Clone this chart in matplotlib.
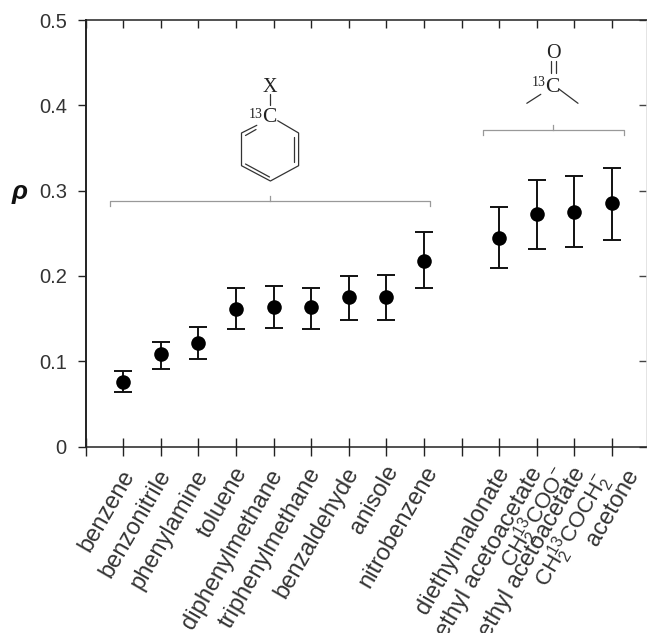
import matplotlib
matplotlib.use('Agg')
import matplotlib.pyplot as plt

# measured rho with lower and upper error limits
positions = [1, 2, 3, 4, 5, 6, 7, 8, 9, 11, 12, 13, 14]
rho = [0.076, 0.108, 0.121, 0.161, 0.163, 0.163, 0.175, 0.175, 0.218, 0.245, 0.272, 0.275, 0.285]
rho_low = [0.064, 0.091, 0.103, 0.138, 0.139, 0.138, 0.148, 0.148, 0.186, 0.209, 0.231, 0.234, 0.242]
rho_high = [0.088, 0.123, 0.140, 0.186, 0.188, 0.186, 0.200, 0.201, 0.252, 0.281, 0.313, 0.317, 0.327]

names = ['benzene', 'benzonitrile', 'phenylamine', 'toluene', 'diphenylmethane',
         'triphenylmethane', 'benzaldehyde', 'anisole', 'nitrobenzene',
         'diethylmalonate', 'ethyl acetoacetate', r'CH$_2^{13}$COO$^{-}$',
         'ethyl acetoacetate', r'CH$_2^{13}$COCH$_2^{-}$', 'acetone']
name_ticks = [1, 2, 3, 4, 5, 6, 7, 8, 9, 11, 12, 12, 13, 13, 14]
# hand placed label offsets from the tick, pixels
name_dx = [-3, -4, -5, -3, -5, -5, -5, -3, -1, -4, -9, 12, -3, 16, 12]
name_dy = [-20, -19, -19, -17, -19, -17, -17, -15, -16, -17, -17, -15, -17, -21, -19]
name_size = [17, 17, 17, 17, 17, 17, 17, 17, 17, 17, 17, 16, 17, 16, 17]

ink = '#222222'
plt.rcParams['font.family'] = ['Liberation Sans', 'DejaVu Sans']
plt.rcParams['mathtext.fontset'] = 'custom'
plt.rcParams['mathtext.rm'] = 'Liberation Sans'
plt.rcParams['mathtext.default'] = 'regular'

fig = plt.figure(figsize=(6.47, 6.33), dpi=100)
ax = fig.add_axes([85.5 / 647, 1 - 446.5 / 633, (647 - 85.5) / 647, 426.5 / 633])
ax.set_xlim(0, 14.93)
ax.set_ylim(0, 0.5)

err = [[r - l for r, l in zip(rho, rho_low)], [h - r for r, h in zip(rho, rho_high)]]
ax.errorbar(positions, rho, yerr=err, fmt='none', ecolor='#111111',
            elinewidth=1.4, capsize=6.2, capthick=1.4)
ax.plot(positions, rho, 'o', color='black', ms=10.5, mew=0)

for side in ax.spines.values():
    side.set_color(ink)
    side.set_linewidth(1.1)
ax.spines['left'].set_linewidth(1.4)
ax.spines['right'].set_color('#dddddd')

ax.set_xticks(range(15))
ax.set_xticklabels([])
ax.tick_params(axis='x', direction='inout', length=13, width=1.0, color=ink)
ax.set_yticks([0, 0.1, 0.2, 0.3, 0.4, 0.5])
ax.set_yticklabels(['0', '0.1', '0.2', '0.3', '0.4', '0.5'])
ax.tick_params(axis='y', direction='out', length=5.5, width=1.0, color=ink, pad=8,
               labelsize=14.5, labelcolor='#333333')

top = ax.secondary_xaxis('top')
top.set_xticks(range(15))
top.set_xticklabels([])
top.tick_params(direction='in', length=5.5, width=1.0, color=ink)
top.spines['top'].set_visible(False)
right = ax.secondary_yaxis('right')
right.set_yticks([0, 0.1, 0.2, 0.3, 0.4, 0.5])
right.set_yticklabels([])
right.tick_params(direction='in', length=5.5, width=1.0, color='#444444')
right.spines['right'].set_visible(False)

for name, tick, dx, dy, size in zip(names, name_ticks, name_dx, name_dy, name_size):
    ax.annotate(name, xy=(tick, 0), xytext=(dx, dy), textcoords='offset pixels',
                rotation=60, rotation_mode='anchor', ha='right', va='top',
                fontsize=size, color='#333333', annotation_clip=False)

# overlay in image pixels for the brackets and the structure sketches
deco = fig.add_axes([0, 0, 1, 1], facecolor='none')
deco.set_xlim(0, 647)
deco.set_ylim(633, 0)
deco.axis('off')

deco.text(20, 192, 'ρ', fontsize=19, fontweight='bold', fontstyle='italic',
          ha='center', va='center', color='#111111')

grey = '#999999'
deco.plot([110, 110, 430, 430], [206, 201, 201, 206], color=grey, lw=0.9)
deco.plot([270, 270], [201, 196], color=grey, lw=0.9)
deco.plot([483, 483, 624, 624], [135, 130, 130, 135], color=grey, lw=0.9)
deco.plot([553, 553], [130, 125], color=grey, lw=0.9)

bond = dict(color='#333333', lw=0.9, solid_capstyle='round')
serif = dict(family='Liberation Serif', color='#222222', ha='center', va='center')

# benzene ring
deco.plot([277.7, 298.6, 298.6, 270.4, 241.5, 241.5, 256.8],
          [120.7, 133, 165.7, 181, 165.7, 133, 125.3], **bond)
deco.plot([294, 294], [137, 162], **bond)
deco.plot([245.5, 269.5], [164, 177], **bond)
deco.plot([245.5, 256], [135.5, 129.5], **bond)
deco.plot([270, 270], [94, 105], **bond)
deco.text(270, 87, 'X', fontsize=14.5, **serif)
deco.text(269, 118, 'C', fontsize=15.5, **serif)
deco.text(256, 114, '13', fontsize=10, **serif)

# carbonyl group
deco.plot([550.5, 550.5], [61, 73], **bond)
deco.plot([555.5, 555.5], [61, 73], **bond)
deco.plot([526.8, 540.8], [103.3, 94.3], **bond)
deco.plot([558.9, 578], [89, 103.3], **bond)
deco.text(553, 54, 'O', fontsize=14.5, **serif)
deco.text(552, 87, 'C', fontsize=15.5, **serif)
deco.text(539, 82, '13', fontsize=10, **serif)

fig.savefig('out.png', dpi=100)
